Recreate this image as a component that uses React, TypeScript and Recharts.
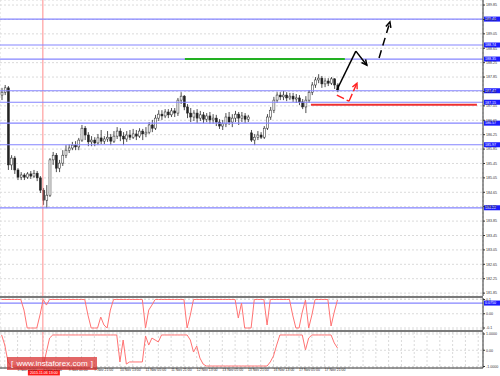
import React from 'react'
import { ComposedChart, Bar, Line, XAxis, YAxis, CartesianGrid, ReferenceLine } from 'recharts'

// 2-hour candles, GBP/JPY, 5 Nov - 17 Nov
const OPEN = [
  187.35, 187.43, 187.55, 185.41, 185.6, 185.27, 185.07, 185.13, 185.07, 185.16,
  185.1, 185.18, 185.05, 184.71, 184.43, 184.57, 185.55, 185.68, 185.32, 185.46,
  185.68, 185.82, 185.88, 185.96, 185.91, 186.1, 186.43, 186.24, 186.05, 186.1,
  186.02, 186.16, 186.07, 186.13, 186.18, 186.07, 186.21, 186.35, 186.21, 186.13,
  186.24, 186.18, 186.27, 186.21, 186.35, 186.27, 186.32, 186.52, 186.43, 186.71,
  186.82, 186.77, 186.88, 186.8, 186.91, 186.85, 187.21, 187.32, 187.02, 186.85,
  186.74, 186.85, 186.71, 186.8, 186.68, 186.77, 186.66, 186.71, 186.6, 186.49,
  186.55, 186.74, 186.6, 186.71, 186.82, 186.71, 186.77, 186.68, 186.3, 186.1,
  186.18, 186.24, 186.18, 186.43, 186.74, 186.93, 187.21, 187.35, 187.3, 187.35,
  187.27, 187.32, 187.24, 187.27, 187.16, 187.02, 187.21, 187.43, 187.63, 187.77,
  187.82, 187.66, 187.74, 187.68, 187.8, 187.63,
]
const HIGH = [
  187.55, 187.63, 187.6, 185.68, 185.66, 185.32, 185.21, 185.18, 185.21, 185.24,
  185.27, 185.24, 185.1, 184.77, 184.85, 185.6, 185.77, 185.74, 185.55, 185.82,
  185.96, 185.99, 186.05, 186.07, 186.16, 186.52, 186.49, 186.32, 186.21, 186.18,
  186.27, 186.38, 186.21, 186.35, 186.27, 186.35, 186.46, 186.43, 186.32, 186.35,
  186.38, 186.41, 186.38, 186.43, 186.41, 186.46, 186.6, 186.66, 186.8, 186.93,
  186.93, 186.96, 186.96, 186.99, 186.99, 187.27, 187.43, 187.35, 187.1, 186.99,
  186.93, 186.96, 186.91, 186.88, 186.85, 186.88, 186.82, 186.8, 186.68, 186.66,
  186.85, 186.88, 186.82, 186.91, 186.88, 186.88, 186.85, 186.8, 186.38, 186.27,
  186.35, 186.32, 186.49, 186.82, 187.02, 187.3, 187.43, 187.43, 187.46, 187.43,
  187.41, 187.41, 187.38, 187.35, 187.24, 187.32, 187.49, 187.71, 187.85, 187.93,
  187.88, 187.82, 187.82, 187.85, 187.82, 187.68,
]
const LOW = [
  187.21, 187.35, 185.27, 185.27, 185.16, 184.99, 184.99, 184.99, 185.02, 185.02,
  185.05, 184.96, 184.63, 184.3, 184.21, 184.52, 185.41, 185.21, 185.21, 185.38,
  185.6, 185.74, 185.82, 185.82, 185.82, 186.05, 186.1, 185.93, 185.93, 185.93,
  185.96, 185.99, 185.99, 186.05, 185.96, 186.02, 186.13, 186.07, 185.96, 186.05,
  186.1, 186.13, 186.1, 186.16, 186.1, 186.18, 186.27, 186.32, 186.38, 186.63,
  186.66, 186.71, 186.71, 186.74, 186.74, 186.77, 187.1, 186.93, 186.71, 186.6,
  186.63, 186.57, 186.63, 186.57, 186.6, 186.55, 186.55, 186.49, 186.41, 186.38,
  186.46, 186.52, 186.46, 186.6, 186.52, 186.6, 186.57, 186.6, 186.05, 185.96,
  186.1, 186.13, 186.13, 186.38, 186.66, 186.85, 187.13, 187.21, 187.21, 187.18,
  187.21, 187.16, 187.13, 187.07, 186.96, 186.85, 187.13, 187.35, 187.55, 187.68,
  187.55, 187.57, 187.6, 187.63, 187.52, 187.43,
]
const CLOSE = [
  187.43, 187.55, 185.41, 185.6, 185.27, 185.07, 185.13, 185.07, 185.16, 185.1,
  185.18, 185.05, 184.71, 184.43, 184.57, 185.55, 185.68, 185.32, 185.46, 185.68,
  185.82, 185.88, 185.96, 185.91, 186.1, 186.43, 186.24, 186.05, 186.1, 186.02,
  186.16, 186.07, 186.13, 186.18, 186.07, 186.21, 186.35, 186.21, 186.13, 186.24,
  186.18, 186.27, 186.21, 186.35, 186.27, 186.32, 186.52, 186.43, 186.71, 186.82,
  186.77, 186.88, 186.8, 186.91, 186.85, 187.21, 187.32, 187.02, 186.85, 186.74,
  186.85, 186.71, 186.8, 186.68, 186.77, 186.66, 186.71, 186.6, 186.49, 186.55,
  186.74, 186.6, 186.71, 186.82, 186.71, 186.77, 186.68, 186.74, 186.1, 186.18,
  186.24, 186.18, 186.43, 186.74, 186.93, 187.21, 187.35, 187.3, 187.35, 187.27,
  187.32, 187.24, 187.27, 187.16, 187.02, 187.21, 187.43, 187.63, 187.77, 187.82,
  187.66, 187.74, 187.68, 187.8, 187.63, 187.49,
]

// first sub-window oscillator (-0.1 .. 0.1)
const OSC_A = [
  0.1, 0.1, 0.1, 0.1, 0.1, 0.1, 0.1, 0.026, -0.1, -0.1,
  -0.1, -0.1, -0.009, 0.1, 0.061, 0.1, 0.1, 0.1, 0.1, 0.1,
  0.1, 0.1, 0.1, 0.1, 0.1, 0.1, 0.1, -0.009, -0.1, -0.1,
  -0.1, -0.023, -0.079, -0.1, 0.026, 0.1, 0.1, 0.1, 0.1, 0.1,
  0.1, 0.1, 0.1, 0.1, 0.1, -0.1, 0.026, 0.061, 0.1, 0.1,
  0.1, 0.1, 0.1, 0.1, 0.1, 0.1, 0.1, 0.1, -0.1, -0.009,
  0.1, 0.1, 0.1, 0.1, 0.1, 0.1, 0.1, 0.1, 0.1, 0.1,
  0.1, 0.1, 0.1, 0.1, -0.03, 0.075, -0.1, -0.1, -0.1, 0.1,
  0.1, 0.1, 0.1, -0.079, 0.1, 0.1, 0.1, 0.1, 0.1, 0.1,
  0.1, -0.009, -0.1, -0.1, 0.012, 0.0965, -0.1, -0.009, 0.1, 0.1,
  0.1, 0.1, 0.1, -0.086, 0.012, 0.0965,
]
// second sub-window oscillator (-1 .. 1)
const OSC_B = [
  0.94, 0.32, -0.72, -0.97, -0.97, -0.97, -0.97, -0.97, -0.97, -0.97,
  -0.97, -0.97, -0.97, -0.97, -0.11, 0.75, 0.94, 0.94, 0.94, 0.94,
  0.94, 0.94, 0.94, 0.94, 0.94, 0.94, 0.94, 0.94, 0.94, 0.94,
  0.94, 0.94, 0.94, 0.94, 0.94, 0.94, 0.94, -0.72, 0.63, -0.85,
  -0.72, -0.72, -0.72, -0.72, -0.72, 0.88, 0.32, 0.75, 0.63, 0.51,
  0.94, 0.94, 0.94, 0.94, 0.94, 0.94, 0.94, 0.94, 0.94, 0.63,
  -0.11, 0.26, -0.48, -0.85, -0.97, -0.97, -0.97, -0.97, -0.97, -0.97,
  -0.97, -0.97, -0.97, -0.97, -0.97, -0.97, -0.97, -0.97, -0.97, -0.97,
  -0.97, -0.97, -0.97, -0.97, -0.72, -0.35, 0.32, 0.94, 0.94, 0.94,
  0.94, 0.94, 0.94, 0.94, 0.94, 0.02, 0.75, 0.94, 0.94, 0.94,
  0.94, 0.94, 0.94, 0.94, 0.45, 0.14,
]

const PRICE_TICKS = [
  189.85, 189.45, 189.05, 188.65, 188.25, 187.85, 187.45, 187.05, 186.65, 186.25, 185.85,
  185.45, 185.05, 184.65, 184.25, 183.85, 183.45, 183.05, 182.65, 182.25, 181.85,
]
const LEVELS = [189.46, 188.74, 188.35, 187.47, 187.15, 186.57, 185.97, 184.22]
const GREEN_LEVEL = { from: 57.3, to: 107.3, price: 188.35 }
const RED_LEVEL = { from: 96.7, to: 148.6, price: 187.08 }
const ARROW_MAIN = [[104.8, 187.49], [110.75, 188.57], [114.2, 188.18]]
const ARROW_NEXT = [[118, 188.38], [121.4, 189.38]]
const ARROW_ALT = [[104.8, 187.35], [108.6, 187.18], [111.1, 187.68]]

const OSC_A_TICKS = [0.1, 0, -0.1]
const OSC_A_LEVEL = 0.075
const OSC_B_TICKS = [1, 0, -1]

const CROSS_X = 12.9
const CROSS_LABEL = '2015.11.06 13:00'
const GRID_X = [
  1, 5, 9, 13, 17, 21, 25, 29, 33, 37, 41, 45, 49, 53, 57, 61, 65, 69, 73,
  77, 81, 85, 89, 93, 97, 101, 105, 109, 113, 117, 121, 125, 129, 133, 137, 141, 145, 149,
]
const TIME_TICKS = [5, 13, 21, 29, 37, 45, 53, 61, 69, 77, 85, 93, 101]
const TIME_LABELS = [
  '5 Nov 21:00', '6 Nov 13:00', '9 Nov 05:00', '9 Nov 21:00', '10 Nov 13:00', '11 Nov 05:00',
  '11 Nov 21:00', '12 Nov 13:00', '13 Nov 05:00', '13 Nov 21:00', '16 Nov 13:00',
  '17 Nov 05:00', '17 Nov 21:00',
]

const rows = OPEN.map((open, i) => ({
  i,
  open,
  high: HIGH[i],
  low: LOW[i],
  close: CLOSE[i],
  oscA: OSC_A[i],
  oscB: OSC_B[i],
}))

const FONT = 'Liberation Sans, Arial, sans-serif'
const LEVEL_BLUE = '#8585ff'
const OSC_RED = '#ff7373'
const X_DOMAIN = [-0.5, 150.5]
const AXIS_W = 17

const Candle = (props: any) => {
  const { x, y, width, height, payload } = props
  if (x == null || y == null || !payload) return <g />
  const top = height < 0 ? y + height : y
  const h = Math.abs(height)
  const k = h / Math.max(payload.high - payload.low, 1e-6)
  const cx = x + width / 2
  const bodyTop = top + (payload.high - Math.max(payload.open, payload.close)) * k
  const bodyH = Math.max(Math.abs(payload.open - payload.close) * k, 0.8)
  const up = payload.close >= payload.open
  return (
    <g>
      <line x1={cx} x2={cx} y1={top} y2={top + h} stroke="#222" strokeWidth={0.8} />
      <rect x={x} y={bodyTop} width={width} height={bodyH} fill={up ? '#fff' : '#222'} stroke="#222" strokeWidth={0.5} />
    </g>
  )
}

const axisText = (fmt: (v: number) => string) => (props: any) => {
  const { x, y, payload } = props
  return (
    <text x={x} y={y + 1.3} fontSize={3.6} fill="#333" fontFamily={FONT} textAnchor="start">
      {fmt(payload.value)}
    </text>
  )
}

const levelTag = (text: string) => (props: any) => {
  const vb = props.viewBox || {}
  const x = (vb.x || 0) + (vb.width || 0)
  const y = vb.y || 0
  return (
    <g>
      <rect x={x + 1} y={y - 2.5} width={16} height={5} fill="#1c1cff" />
      <text x={x + 2} y={y + 1.3} fontSize={3.6} fill="#fff" fontFamily={FONT}>
        {text}
      </text>
    </g>
  )
}

const crossTag = (props: any) => {
  const vb = props.viewBox || {}
  const x = vb.x || 0
  const bottom = (vb.y || 0) + (vb.height || 0)
  return (
    <g>
      <rect x={x - 15} y={bottom + 2} width={32} height={5.5} fill="#ff1a1a" />
      <text x={x + 1} y={bottom + 6} fontSize={3.6} fill="#fff" fontFamily={FONT} textAnchor="middle">
        {CROSS_LABEL}
      </text>
    </g>
  )
}

const TimeTick = (props: any) => {
  const { x, y, payload } = props
  const idx = TIME_TICKS.indexOf(payload.value)
  if (idx < 0) return <g />
  return (
    <text x={x} y={y + 3.4} fontSize={3.5} fill="#333" fontFamily={FONT} textAnchor="start">
      {TIME_LABELS[idx]}
    </text>
  )
}

const arrowShape = (color: string, dash: string | undefined, head: boolean, w: number) => (p: any) => {
  const x1 = Number(p.x1)
  const y1 = Number(p.y1)
  const x2 = Number(p.x2)
  const y2 = Number(p.y2)
  const a = Math.atan2(y2 - y1, x2 - x1)
  const len = 6
  const spread = 0.45
  const ax = x2 - len * Math.cos(a - spread)
  const ay = y2 - len * Math.sin(a - spread)
  const bx = x2 - len * Math.cos(a + spread)
  const by = y2 - len * Math.sin(a + spread)
  return (
    <g>
      <line x1={x1} y1={y1} x2={x2} y2={y2} stroke={color} strokeWidth={w} strokeDasharray={dash} />
      {head && <polyline points={`${ax},${ay} ${x2},${y2} ${bx},${by}`} fill="none" stroke={color} strokeWidth={w} />}
    </g>
  )
}

const arrowLines = (pts: number[][], color: string, dash: string | undefined, w: number, key: string) =>
  pts.slice(1).map((pt, j) => (
    <ReferenceLine
      key={`${key}-${j}`}
      segment={[{ x: pts[j][0], y: pts[j][1] }, { x: pt[0], y: pt[1] }]}
      shape={arrowShape(color, dash, j === pts.length - 2, w)}
      ifOverflow="visible"
    />
  ))

const gridProps = { stroke: '#dadada', strokeDasharray: '2 2' }

const yAxisProps = {
  orientation: 'right' as const,
  width: AXIS_W,
  tickSize: 2,
  tickMargin: 1,
  interval: 0 as const,
  allowDataOverflow: true,
  axisLine: { stroke: '#333' },
  tickLine: { stroke: '#333' },
}

const PriceChart = () => (
  <ComposedChart width={500} height={296} data={rows} margin={{ top: 0, right: 0, bottom: 0, left: 0 }}>
    <CartesianGrid {...gridProps} />
    <XAxis type="number" dataKey="i" domain={X_DOMAIN} ticks={GRID_X} interval={0} allowDataOverflow tick={false} tickLine={false} axisLine={false} height={0} />
    <YAxis {...yAxisProps} domain={[181.77, 189.99]} ticks={PRICE_TICKS} tick={axisText((v) => v.toFixed(2))} />
    <ReferenceLine x={CROSS_X} stroke="#ff8c8c" strokeWidth={1} />
    {LEVELS.map((lv) => (
      <ReferenceLine key={lv} y={lv} stroke={LEVEL_BLUE} strokeWidth={1.2} label={levelTag(lv.toFixed(2))} />
    ))}
    <ReferenceLine
      segment={[{ x: GREEN_LEVEL.from, y: GREEN_LEVEL.price }, { x: GREEN_LEVEL.to, y: GREEN_LEVEL.price }]}
      stroke="#22b022"
      strokeWidth={2}
    />
    <ReferenceLine
      segment={[{ x: RED_LEVEL.from, y: RED_LEVEL.price }, { x: RED_LEVEL.to, y: RED_LEVEL.price }]}
      stroke="#ee3030"
      strokeWidth={2}
    />
    <Bar dataKey={(d: any) => [d.low, d.high]} barSize={2} shape={(p: any) => <Candle {...p} />} isAnimationActive={false} />
    {arrowLines(ARROW_MAIN, '#000', undefined, 1.5, 'main')}
    {arrowLines(ARROW_NEXT, '#000', '8 5', 1.5, 'next')}
    {arrowLines(ARROW_ALT, '#ff2020', '8 3', 1.4, 'alt')}
  </ComposedChart>
)

const OscAChart = () => (
  <ComposedChart width={500} height={32} data={rows} margin={{ top: 0, right: 0, bottom: 0, left: 0 }}>
    <CartesianGrid {...gridProps} />
    <XAxis type="number" dataKey="i" domain={X_DOMAIN} ticks={GRID_X} interval={0} allowDataOverflow tick={false} tickLine={false} axisLine={false} height={0} />
    <YAxis {...yAxisProps} domain={[-0.114, 0.1105]} ticks={OSC_A_TICKS} tick={axisText((v) => (v === 0 ? '0.00' : v.toFixed(1)))} />
    <ReferenceLine x={CROSS_X} stroke="#ff8c8c" strokeWidth={1} />
    <ReferenceLine y={OSC_A_LEVEL} stroke={LEVEL_BLUE} strokeWidth={1.2} label={levelTag(OSC_A_LEVEL.toFixed(4))} />
    <Line type="linear" dataKey="oscA" stroke={OSC_RED} strokeWidth={1} dot={false} isAnimationActive={false} />
  </ComposedChart>
)

const OscBChart = () => (
  <ComposedChart width={500} height={44} data={rows} margin={{ top: 0, right: 0, bottom: 0, left: 0 }}>
    <CartesianGrid {...gridProps} />
    <XAxis
      type="number"
      dataKey="i"
      domain={X_DOMAIN}
      ticks={GRID_X}
      interval={0}
      allowDataOverflow
      tick={(p: any) => <TimeTick {...p} />}
      tickLine={false}
      tickSize={0}
      tickMargin={0}
      axisLine={{ stroke: '#333' }}
      height={8}
    />
    <YAxis {...yAxisProps} domain={[-1.092, 1.123]} ticks={OSC_B_TICKS} tick={axisText((v) => (v === 0 ? '0.00' : v.toFixed(4)))} />
    <ReferenceLine x={CROSS_X} stroke="#ff8c8c" strokeWidth={1} label={crossTag} />
    <Line type="linear" dataKey="oscB" stroke={OSC_RED} strokeWidth={1} dot={false} isAnimationActive={false} />
  </ComposedChart>
)

export default function App() {
  return (
    <div style={{ position: 'absolute', left: 0, top: 0, width: 500, height: 376, background: '#fff', overflow: 'hidden' }}>
      <div style={{ position: 'absolute', left: 0, top: 0 }}>
        <PriceChart />
      </div>
      <div style={{ position: 'absolute', left: 0, top: 296, width: 483, height: 2, background: '#7a7a7a' }} />
      <div style={{ position: 'absolute', left: 0, top: 298 }}>
        <OscAChart />
      </div>
      <div style={{ position: 'absolute', left: 0, top: 330, width: 483, height: 2, background: '#7a7a7a' }} />
      <div style={{ position: 'absolute', left: 0, top: 332 }}>
        <OscBChart />
      </div>
      <div
        style={{
          position: 'absolute',
          left: 7,
          top: 357,
          width: 90,
          height: 13,
          boxSizing: 'border-box',
          padding: '0 4px',
          background: 'rgba(215,45,45,0.72)',
          color: '#fff',
          fontFamily: FONT,
          fontSize: 8,
          display: 'flex',
          alignItems: 'center',
          justifyContent: 'space-between',
        }}
      >
        <span>[</span>
        <span>www.instaforex.com</span>
        <span>]</span>
      </div>
    </div>
  )
}
